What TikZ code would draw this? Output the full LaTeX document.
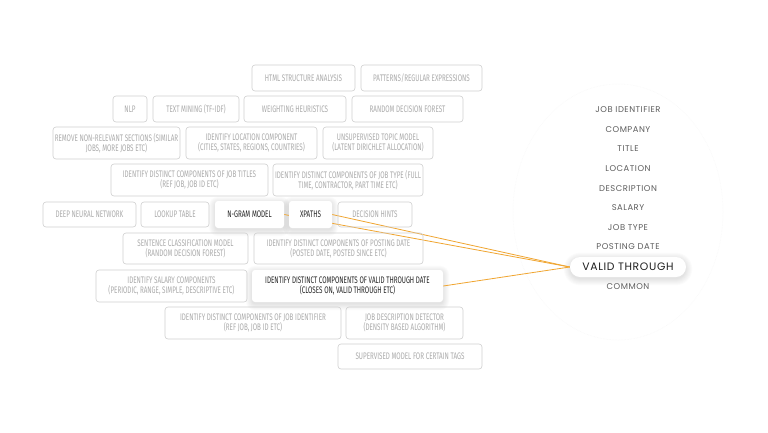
\documentclass[tikz,border=0pt]{standalone}
\usepackage{fontspec}
\setmainfont{Fira Sans}
\newfontfamily\condf[FakeStretch=0.66]{Fira Sans}
\newfontfamily\listf[LetterSpace=6]{Poppins}
\definecolor{linecol}{HTML}{F0A530}
\definecolor{boxline}{HTML}{CFCFCF}
\definecolor{boxtext}{HTML}{ABABAB}
\definecolor{listtext}{HTML}{5E5E5E}
\pgfdeclarelayer{bg}
\pgfsetlayers{bg,main}
\tikzset{
  gbox/.style={draw=boxline, line width=0.6pt, rounded corners=3pt, text=boxtext,
    font=\condf\fontsize{9.5}{10}\selectfont, align=center, inner sep=0pt},
  hbox/.style={fill=white, rounded corners=3pt, text=black!85,
    font=\condf\fontsize{9.5}{10}\selectfont, align=center, inner sep=0pt},
  item/.style={text=listtext, font=\listf\fontsize{8.4}{9}\selectfont, inner sep=0pt},
  pill/.style={fill=white, rounded corners=10pt, text=black!88, font=\listf\fontsize{10.8}{12}\selectfont,
    inner sep=0pt, minimum width=116pt, minimum height=20pt},
  conn/.style={draw=linecol, line width=0.8pt},
  softshadow/.style={fill=black, opacity=0.016}
}
\newcommand\softsh[2]{% node name, corner radius
  \foreach \e in {0,1,2,3,4,5,6}{
    \fill[softshadow, rounded corners=#2+\e*1pt]
      ([xshift=-\e*1pt, yshift=\e*1pt-2pt]#1.north west) rectangle ([xshift=\e*1pt, yshift=-\e*1pt-2pt]#1.south east);
  }}
\begin{document}
\begin{tikzpicture}[x=1pt,y=-1pt]
\useasboundingbox (0,0) rectangle (768,432);

% row 1
\node[gbox, minimum width=103pt, minimum height=26pt] (html) at (303.5,78) {HTML STRUCTURE ANALYSIS};
\node[gbox, minimum width=121pt, minimum height=26pt] (patterns) at (421.5,78) {PATTERNS/REGULAR EXPRESSIONS};
% row 2
\node[gbox, minimum width=34pt, minimum height=26pt] (nlp) at (130,109) {NLP};
\node[gbox, minimum width=86pt, minimum height=26pt] (textmining) at (196,109) {TEXT MINING (TF-IDF)};
\node[gbox, minimum width=102pt, minimum height=26pt] (weighting) at (295,109) {WEIGHTING HEURISTICS};
\node[gbox, minimum width=111pt, minimum height=26pt] (rdf) at (407.5,109) {RANDOM DECISION FOREST};
% row 3
\node[gbox, minimum width=127pt, minimum height=32pt] (remove) at (116.5,143) {REMOVE NON-RELEVANT SECTIONS (SIMILAR\\JOBS, MORE JOBS ETC)};
\node[gbox, minimum width=131pt, minimum height=32pt] (location) at (251.5,143) {IDENTIFY LOCATION COMPONENT\\(CITIES, STATES, REGIONS, COUNTRIES)};
\node[gbox, minimum width=110pt, minimum height=32pt] (unsup) at (378,143) {UNSUPERVISED TOPIC MODEL\\(LATENT DIRICHLET ALLOCATION)};
% row 4
\node[gbox, minimum width=157pt, minimum height=32pt] (jobtitles) at (189.5,180) {IDENTIFY DISTINCT COMPONENTS OF JOB TITLES\\(REF JOB, JOB ID ETC)};
\node[gbox, minimum width=150pt, minimum height=32pt] (jobtype) at (348,180) {IDENTIFY DISTINCT COMPONENTS OF JOB TYPE (FULL\\TIME, CONTRACTOR, PART TIME ETC)};
% row 5
\node[gbox, minimum width=93pt, minimum height=25pt] (deep) at (89.5,214.5) {DEEP NEURAL NETWORK};
\node[gbox, minimum width=68pt, minimum height=25pt] (lookup) at (175,214.5) {LOOKUP TABLE};
\node[hbox, minimum width=69pt, minimum height=27pt] (ngram) at (249.5,214.5) {N-GRAM MODEL};
\node[hbox, minimum width=43pt, minimum height=27pt] (xpaths) at (310.5,214.5) {XPATHS};
\node[gbox, minimum width=74pt, minimum height=25pt] (hints) at (375,214.5) {DECISION HINTS};
% row 6
\node[gbox, minimum width=125pt, minimum height=31pt] (sentence) at (185.5,248.5) {SENTENCE CLASSIFICATION MODEL\\(RANDOM DECISION FOREST)};
\node[gbox, minimum width=169pt, minimum height=31pt] (postdate) at (338.5,248.5) {IDENTIFY DISTINCT COMPONENTS OF POSTING DATE\\(POSTED DATE, POSTED SINCE ETC)};
% row 7
\node[gbox, minimum width=151pt, minimum height=32pt] (salary) at (171.5,286) {IDENTIFY SALARY COMPONENTS\\(PERIODIC, RANGE, SIMPLE, DESCRIPTIVE ETC)};
\node[hbox, minimum width=191pt, minimum height=32pt] (validdate) at (347.5,286) {IDENTIFY DISTINCT COMPONENTS OF VALID THROUGH DATE\\(CLOSES ON, VALID THROUGH ETC)};
% row 8
\node[gbox, minimum width=176pt, minimum height=32pt] (jobid) at (253,323) {IDENTIFY DISTINCT COMPONENTS OF JOB IDENTIFIER\\(REF JOB, JOB ID ETC)};
\node[gbox, minimum width=117pt, minimum height=32pt] (jobdesc) at (404.5,323) {JOB DESCRIPTION DETECTOR\\(DENSITY BASED ALGORITHM)};
% row 9
\node[gbox, minimum width=144pt, minimum height=25pt] (supervised) at (410,356.5) {SUPERVISED MODEL FOR CERTAIN TAGS};

% right list
\node[item] (l1) at (628,110) {JOB IDENTIFIER};
\node[item] (l2) at (628,130) {COMPANY};
\node[item] (l3) at (628,149) {TITLE};
\node[item] (l4) at (628,169) {LOCATION};
\node[item] (l5) at (628,189) {DESCRIPTION};
\node[item] (l6) at (628,208) {SALARY};
\node[item] (l7) at (628,228) {JOB TYPE};
\node[item] (l8) at (628,247) {POSTING DATE};
\node[pill] (vt) at (628,267) {VALID THROUGH};
\node[item] (l10) at (628,287) {COMMON};

\begin{pgfonlayer}{bg}
\fill[white] (0,0) rectangle (768,432);
\draw[black!3, line width=0.5pt, densely dotted] (618,212) ellipse [x radius=105, y radius=128];
\softsh{ngram}{3pt}
\softsh{xpaths}{3pt}
\softsh{validdate}{3pt}
\softsh{vt}{10pt}
\draw[conn] (ngram.east) -- (vt.west);
\draw[conn] (xpaths.east) -- (vt.west);
\draw[conn] (validdate.east) -- (vt.west);
\end{pgfonlayer}
\end{tikzpicture}
\end{document}
